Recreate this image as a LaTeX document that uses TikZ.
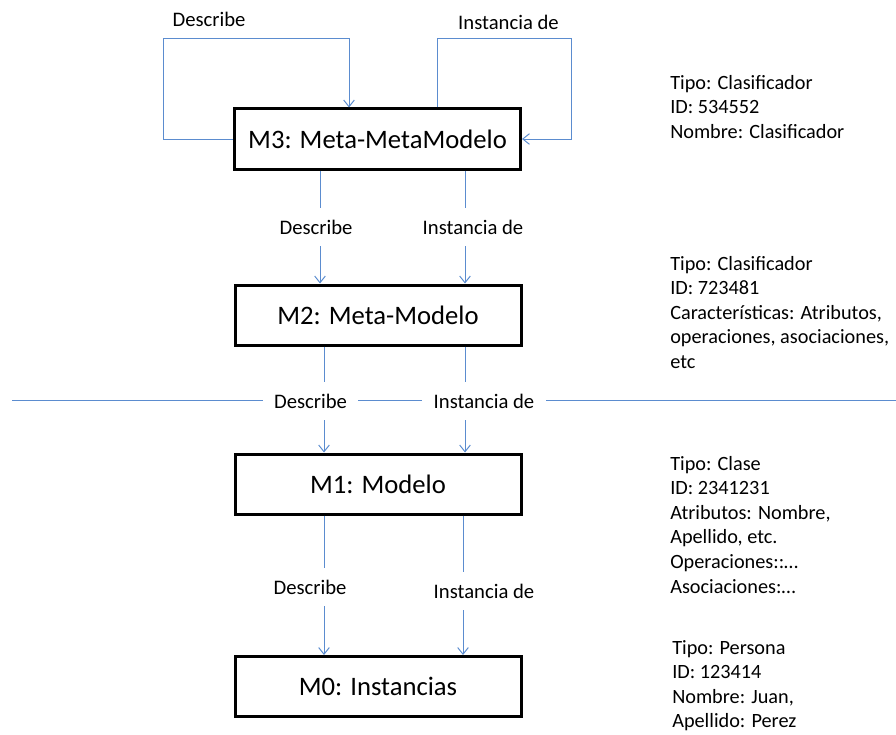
\documentclass[tikz,border=0pt]{standalone}
\usepackage{fontspec}
\setmainfont{Carlito}
\usetikzlibrary{arrows.meta}
\definecolor{linkblue}{HTML}{5B8CCF}
\begin{document}
\begin{tikzpicture}[
    x=0.75pt, y=-0.75pt,
    level/.style={rectangle, draw, line width=2.25pt, minimum width=214.5pt, minimum height=45pt, inner sep=0pt, font=\fontsize{20}{24}\selectfont},
    link/.style={draw=linkblue, line width=0.75pt, -{Straight Barb[length=5pt,width=8pt]}},
    rule/.style={draw=linkblue, line width=0.75pt},
    tag/.style={fill=white, inner sep=8.5pt, font=\fontsize{15.5}{18}\selectfont},
    caption/.style={inner sep=0pt, font=\fontsize{15.5}{18}\selectfont},
    note/.style={anchor=north west, align=left, inner sep=0pt, font=\fontsize{15.2}{18.4}\selectfont}
  ]
    \useasboundingbox (0,0) rectangle (896,735);
    \node[level] (m3) at (377.5,139) {M3: Meta-MetaModelo};
    \node[level] (m2) at (378,315) {M2: Meta-Modelo};
    \node[level] (m1) at (378,484) {M1: Modelo};
    \node[level] (m0) at (378,686.5) {M0: Instancias};
    \draw[link] (m3.west) -| (163,39) -| (m3.north -| 349,0);
    \draw[link] (m3.north -| 437,0) |- (571,39) |- (m3.east);
    \node[caption] (loopd) at (209,19) {Describe};
    \node[caption] (loopi) at (508.5,22) {Instancia de};
    \coordinate (sepL) at (12,400);
    \coordinate (sepR) at (896,400);
    \draw[rule] (sepL) -- (sepR);
    \foreach \up/\down/\dx/\ix in {m3/m2/320/465, m2/m1/324/465, m1/m0/324/463} {
      \draw[link] (\up.south -| \dx,0) -- (\down.north -| \dx,0);
      \draw[link] (\up.south -| \ix,0) -- (\down.north -| \ix,0);
    }
    \node[tag] (d32) at (316,227) {Describe};
    \node[tag] (i32) at (473,227) {Instancia de};
    \node[tag] (d21) at (310.5,401) {Describe};
    \node[tag] (i21) at (484,401) {Instancia de};
    \node[tag] (d10) at (310,587) {Describe};
    \node[tag] (i10) at (484,591) {Instancia de};
    \node[note] (n3) at (670,75) {Tipo: Clasificador\\ID: 534552\\Nombre: Clasificador};
    \node[note] (n2) at (670,256) {Tipo: Clasificador\\ID: 723481\\Características: Atributos,\\operaciones, asociaciones,\\etc};
    \node[note] (n1) at (670,456) {Tipo: Clase\\ID: 2341231\\Atributos: Nombre,\\Apellido, etc.\\Operaciones::…\\Asociaciones:…};
    \node[note] (n0) at (672,640) {Tipo: Persona\\ID: 123414\\Nombre: Juan,\\Apellido: Perez};
  \end{tikzpicture}
\end{document}
